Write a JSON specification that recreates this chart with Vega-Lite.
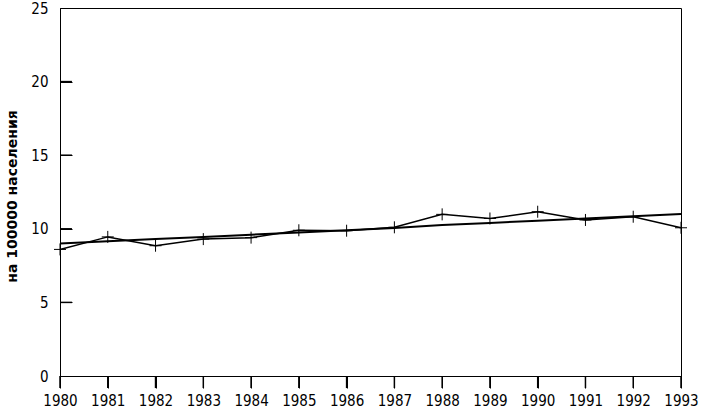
{
  "$schema": "https://vega.github.io/schema/vega-lite/v6.json",
  "width": 621,
  "height": 368,
  "autosize": {"type": "none"},
  "padding": {"left": 60, "top": 8, "right": 20, "bottom": 34},
  "background": "white",
  "config": {
    "view": {"stroke": "black", "strokeWidth": 1},
    "axis": {
      "grid": false,
      "domainColor": "black",
      "tickColor": "black",
      "labelColor": "black",
      "titleColor": "black",
      "labelFont": "DejaVu Sans Condensed, DejaVu Sans",
      "labelFontSize": 15,
      "labelFontWeight": "normal"
    }
  },
  "data": {
    "values": [
      {"year": 1980, "rate": 8.6, "trend": 9.0},
      {"year": 1981, "rate": 9.45, "trend": 9.15},
      {"year": 1982, "rate": 8.85, "trend": 9.3},
      {"year": 1983, "rate": 9.3, "trend": 9.45},
      {"year": 1984, "rate": 9.4, "trend": 9.6},
      {"year": 1985, "rate": 9.9, "trend": 9.75},
      {"year": 1986, "rate": 9.87, "trend": 9.9},
      {"year": 1987, "rate": 10.1, "trend": 10.05},
      {"year": 1988, "rate": 10.98, "trend": 10.25},
      {"year": 1989, "rate": 10.7, "trend": 10.4},
      {"year": 1990, "rate": 11.16, "trend": 10.55},
      {"year": 1991, "rate": 10.6, "trend": 10.7},
      {"year": 1992, "rate": 10.82, "trend": 10.85},
      {"year": 1993, "rate": 10.07, "trend": 11.0}
    ]
  },
  "layer": [
    {
      "mark": {"type": "line", "color": "black", "strokeWidth": 2},
      "encoding": {
        "x": {
          "field": "year",
          "type": "quantitative",
          "scale": {"domain": [1980, 1993], "nice": false, "zero": false},
          "axis": {
            "title": null,
            "values": [1980,1981,1982,1983,1984,1985,1986,1987,1988,1989,1990,1991,1992,1993],
            "format": "d",
            "tickSize": 12,
            "labelPadding": 5,
            "labelFlush": false,
            "labelOverlap": false
          }
        },
        "y": {
          "field": "trend",
          "type": "quantitative",
          "scale": {"domain": [0, 25], "nice": false},
          "axis": {
            "title": "на 100000 населения",
            "values": [0, 5, 10, 15, 20, 25],
            "tickSize": -12,
            "labelPadding": 24,
            "titleFont": "DejaVu Sans",
            "titleFontWeight": "bold",
            "titleFontSize": 14,
            "titleAngle": -90,
            "titleX": -48,
            "titleY": 188,
            "titleAlign": "center",
            "titleBaseline": "middle"
          }
        }
      }
    },
    {
      "mark": {"type": "line", "color": "black", "strokeWidth": 1.5},
      "encoding": {
        "x": {"field": "year", "type": "quantitative"},
        "y": {"field": "rate", "type": "quantitative"}
      }
    },
    {
      "mark": {"type": "point", "shape": "M-1,0H1M0,-1V1", "filled": false, "stroke": "black", "strokeWidth": 1, "size": 144, "opacity": 1},
      "encoding": {
        "x": {"field": "year", "type": "quantitative"},
        "y": {"field": "rate", "type": "quantitative"}
      }
    },
    {
      "mark": {"type": "rule", "color": "black", "strokeWidth": 1.5},
      "encoding": {
        "x": {"field": "year", "type": "quantitative"},
        "y": {"datum": 0},
        "y2": {"datum": -0.82}
      }
    },
    {
      "data": {"values": [{"tick": 5}, {"tick": 10}, {"tick": 15}, {"tick": 20}]},
      "mark": {"type": "rule", "color": "black", "strokeWidth": 1.5},
      "encoding": {
        "y": {"field": "tick", "type": "quantitative"},
        "x": {"datum": 1980},
        "x2": {"datum": 1980.25}
      }
    }
  ]
}
